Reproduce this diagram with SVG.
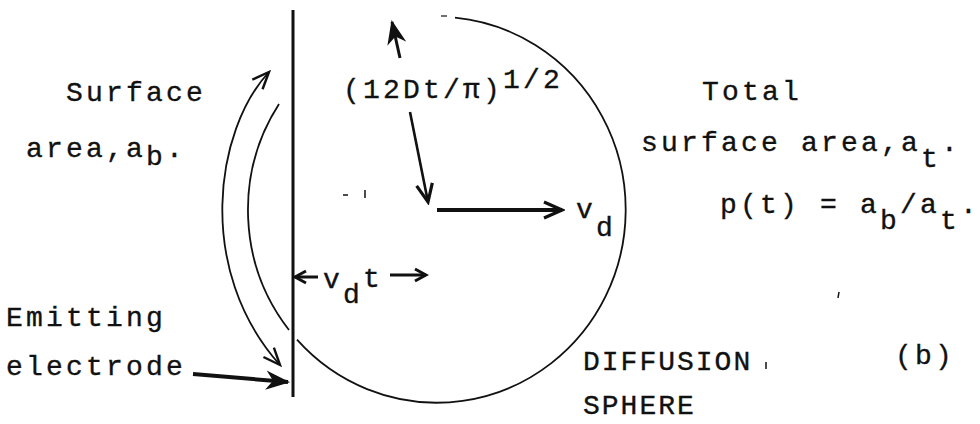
<svg xmlns="http://www.w3.org/2000/svg" width="980" height="424" viewBox="0 0 980 424">
<style>
text{font-family:"Liberation Mono","Courier New",monospace;font-size:28px;fill:#111;stroke:#111;stroke-width:0.35;letter-spacing:3.2px}
.thin{fill:none;stroke:#111;stroke-width:1.8}
.thick{fill:none;stroke:#111;stroke-linecap:butt}
</style>
<defs>
<marker id="ah" viewBox="0 0 24 20" refX="21" refY="10" markerWidth="24" markerHeight="20" markerUnits="userSpaceOnUse" orient="auto-start-reverse">
<path d="M3,2 L21,10 L3,18" fill="none" stroke="#111" stroke-width="3.2"/>
</marker>
<marker id="af" viewBox="0 0 24 20" refX="22" refY="10" markerWidth="24" markerHeight="20" markerUnits="userSpaceOnUse" orient="auto-start-reverse">
<path d="M2,2 L22,10 L2,18 L8,10 Z" fill="#111" stroke="#111" stroke-width="1.5"/>
</marker>
<marker id="ahs" viewBox="0 0 16 16" refX="13" refY="8" markerWidth="16" markerHeight="16" markerUnits="userSpaceOnUse" orient="auto-start-reverse">
<path d="M2,2 L13,8 L2,14" fill="none" stroke="#111" stroke-width="3"/>
</marker>
<marker id="aa" viewBox="0 0 22 18" refX="19" refY="9" markerWidth="22" markerHeight="18" markerUnits="userSpaceOnUse" orient="auto-start-reverse">
<path d="M2,2 L19,9 L2,16" fill="none" stroke="#111" stroke-width="2.4"/>
</marker>
</defs>
<rect width="980" height="424" fill="#fff"/>

<g id="electrode">
<line x1="293" y1="10" x2="293" y2="397" stroke="#111" stroke-width="3"/>
</g>

<g id="sphere">
<path class="thin" d="M455 17.6 A189 193 0 1 1 297 339.7"/>
<path class="thin" d="M279 104 A189 193 0 0 0 289 330"/>
<line x1="441" y1="16" x2="447" y2="16" stroke="#111" stroke-width="1.2"/>
</g>

<g id="connectors">
<path class="thin" d="M269 72 C215 130 195 270 280 365" marker-start="url(#aa)" marker-end="url(#aa)"/>
<line class="thick" x1="193" y1="374" x2="288" y2="382" stroke-width="4" marker-end="url(#af)"/>
<line class="thick" x1="400" y1="58" x2="392" y2="22" stroke-width="3" marker-end="url(#af)"/>
<line class="thick" x1="410" y1="112" x2="428" y2="202" stroke-width="2.6" marker-end="url(#ah)"/>
<line class="thick" x1="437" y1="210" x2="562" y2="210" stroke-width="4" marker-end="url(#ah)"/>
<line class="thick" x1="318" y1="277" x2="295" y2="277" stroke-width="3" marker-end="url(#ahs)"/>
<line class="thick" x1="390" y1="275" x2="426" y2="275" stroke-width="3" marker-end="url(#ahs)"/>
</g>

<g id="stray-marks" stroke="#111" stroke-width="1.5">
<line x1="343" y1="195" x2="348" y2="195"/>
<line x1="365" y1="190" x2="365" y2="198"/>
<line x1="839" y1="292" x2="838" y2="298"/>
<line x1="766" y1="362" x2="766" y2="369"/>
</g>

<g id="label-surface-ab">
<text x="66" y="101">Surface</text>
<text x="26" y="157">area,a<tspan dy="8">b</tspan><tspan dy="-8">.</tspan></text>
</g>

<g id="label-radius">
<text x="343" y="98">(12Dt/π)<tspan dy="-10">1/2</tspan></text>
</g>

<g id="label-total">
<text x="702" y="100">Total</text>
<text x="641" y="151">surface area,a<tspan dy="16">t</tspan><tspan dy="-16">.</tspan></text>
<text x="720" y="213">p(t) = a<tspan dy="16">b</tspan><tspan dy="-16">/a</tspan><tspan dy="16">t</tspan><tspan dy="-16">.</tspan></text>
</g>

<g id="label-vd">
<text x="576" y="218">v<tspan dy="18">d</tspan></text>
</g>

<g id="label-vdt">
<text x="323" y="288">v<tspan dy="15">d</tspan><tspan dy="-16">t</tspan></text>
</g>

<g id="label-electrode">
<text x="6" y="326">Emitting</text>
<text x="6" y="375">electrode</text>
</g>

<g id="label-sphere">
<text x="583" y="370" style="letter-spacing:2px">DIFFUSION</text>
<text x="583" y="414" style="letter-spacing:2px">SPHERE</text>
</g>

<g id="label-b">
<text x="895" y="364">(b)</text>
</g>
</svg>
